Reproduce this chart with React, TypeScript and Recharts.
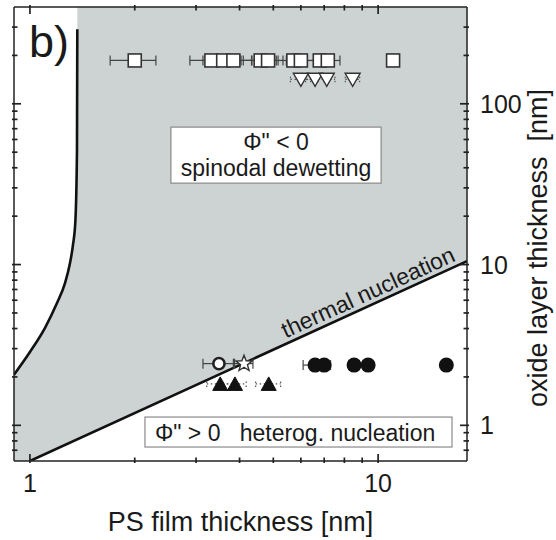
import React from 'react';
import {
  ComposedChart, XAxis, YAxis, Area, Line, Scatter, ErrorBar, ReferenceArea, ReferenceDot,
} from 'recharts';

const FONT = '"Liberation Sans", Arial, Helvetica, sans-serif';
const GREY = '#cdd3d3';
const INK = '#1a1a1a';
const W = 556;
const H = 540;

// log axes
const xDomain = [0.9, 18];
const yDomain = [0.6, 400];
const xTicks = [1, 2, 3, 4, 5, 6, 7, 8, 9, 10];
const xTickLabels = [1, 10];
const yTicks = [0.7, 0.8, 0.9, 1, 2, 3, 4, 5, 6, 7, 8, 9, 10, 20, 30, 40, 50, 60, 70, 80, 90, 100, 200, 300];
const yTickLabels = [1, 10, 100];

// left boundary (white region to its left)
const curveX = [0.899, 1.0, 1.104, 1.196, 1.261, 1.303, 1.329, 1.351, 1.365, 1.368];
const curveY = [2.06, 2.86, 4.03, 5.76, 7.67, 10.2, 13.2, 18.9, 51.5, 291];

// thermal nucleation line
const thermalX = [1.0, 18];
const thermalY = [0.6, 10.5];

// open squares with error bars
const squareX = [2.0, 3.32, 3.59, 3.84, 4.6, 4.83, 5.71, 6.0, 6.8, 7.17, 11.04];
const squareY = [186, 186, 186, 186, 186, 186, 186, 186, 186, 186, 186];
const squareErr = [0.3, 0.44, 0.45, 0.5, 0.5, 0.5, 0.55, 0.55, 0.6, 0.6, 0.3];

// open down triangles
const triDownX = [6.0, 6.59, 7.12, 8.45];
const triDownY = [142, 142, 142, 142];
const triDownErr = [0.4, 0.4, 0.4, 0.4];

// open circle + star
const openCircX = [3.49];
const openCircY = [2.42];
const openCircErr = [0.35];
const starX = [4.12];
const starY = [2.42];
const starErr = [0.25];

// filled triangles
const triUpX = [3.52, 3.88, 4.85];
const triUpY = [1.81, 1.81, 1.81];
const triUpErr = [0.3, 0.3, 0.4];

// filled circles
const dotX = [6.59, 7.0, 8.53, 9.36, 15.7];
const dotY = [2.37, 2.37, 2.37, 2.37, 2.37];
const dotErr = [0.5, 0.3, 0.3, 0.3, 0.3];

const pts = (xs: number[], ys: number[], es?: number[]) =>
  xs.map((x, i) => ({ x, y: ys[i], ex: es ? es[i] : 0 }));

const greyRows = xDomain.map((x) => ({ x, band: [yDomain[0], yDomain[1]] }));
const leftRows = curveX.map((x, i) => ({ x, y: curveY[i], band: [curveY[i], yDomain[1]] }));
const thermalRows = thermalX.map((x, i) => ({ x, y: thermalY[i], band: [yDomain[0], thermalY[i]] }));

const axisStyle = { stroke: '#222', strokeWidth: 1.5 };
const TICK = '#222';
const MAJOR = 9;
const MINOR = 5.5;

const BottomTick = ({ x, y, payload }: any) => {
  const major = xTickLabels.includes(payload.value);
  return (
    <g>
      <path d={`M${x},${y}V${y - (major ? MAJOR : MINOR)}`} stroke={TICK} strokeWidth={1.7} fill="none" />
      {major && (
        <text x={x} y={y + 29} textAnchor="middle" fontSize={25} fontFamily={FONT} fill={INK}>
          {payload.value}
        </text>
      )}
    </g>
  );
};

const TopTick = ({ x, y, payload }: any) => {
  const major = xTickLabels.includes(payload.value);
  return <path d={`M${x},${y}V${y + (major ? MAJOR : MINOR)}`} stroke={TICK} strokeWidth={1.7} fill="none" />;
};

const LeftTick = ({ x, y, payload }: any) => {
  const major = yTickLabels.includes(payload.value);
  return <path d={`M${x},${y}H${x + (major ? MAJOR : MINOR)}`} stroke={TICK} strokeWidth={1.7} fill="none" />;
};

const RightTick = ({ x, y, payload }: any) => {
  const major = yTickLabels.includes(payload.value);
  return (
    <g>
      <path d={`M${x},${y}H${x - (major ? MAJOR : MINOR)}`} stroke={TICK} strokeWidth={1.7} fill="none" />
      {major && (
        <text x={x + 11} y={y + 9} textAnchor="start" fontSize={25} fontFamily={FONT} fill={INK}>
          {payload.value}
        </text>
      )}
    </g>
  );
};

const OpenSquare = ({ cx, cy }: any) => (
  <rect x={cx - 6.5} y={cy - 6.5} width={13} height={13} fill="#fff" stroke="#333" strokeWidth={1.6} />
);
const OpenTriDown = ({ cx, cy }: any) => (
  <polygon points={`${cx - 7.5},${cy - 6} ${cx + 7.5},${cy - 6} ${cx},${cy + 7}`} fill="#fff" stroke="#333" strokeWidth={1.4} />
);
const FilledTriUp = ({ cx, cy }: any) => (
  <polygon points={`${cx - 7.5},${cy + 6.5} ${cx + 7.5},${cy + 6.5} ${cx},${cy - 7}`} fill="#111" stroke="#111" strokeWidth={1} />
);
const OpenCircle = ({ cx, cy }: any) => (
  <circle cx={cx} cy={cy} r={5.6} fill="#fff" stroke="#222" strokeWidth={2.6} />
);
const FilledCircle = ({ cx, cy }: any) => <circle cx={cx} cy={cy} r={7.5} fill="#111" />;
const Star = ({ cx, cy }: any) => {
  const p: string[] = [];
  for (let i = 0; i < 10; i++) {
    const r = i % 2 === 0 ? 8.5 : 3.6;
    const a = -Math.PI / 2 + (i * Math.PI) / 5;
    p.push(`${cx + r * Math.cos(a)},${cy + r * Math.sin(a)}`);
  }
  return <polygon points={p.join(' ')} fill="#fff" stroke="#333" strokeWidth={1.4} />;
};

const SpinodalBox = ({ x, y, width, height }: any) => (
  <g fontFamily={FONT} fill={INK}>
    <rect x={x} y={y} width={width} height={height} fill="#fff" stroke="#8a8a8a" strokeWidth={1.2} />
    <text x={x + width / 2} y={y + 23} textAnchor="middle" fontSize={23}>Φ" &lt; 0</text>
    <text x={x + width / 2} y={y + 49} textAnchor="middle" fontSize={23}>spinodal dewetting</text>
  </g>
);

const HeterogBox = ({ x, y, width, height }: any) => (
  <g fontFamily={FONT} fill={INK}>
    <rect x={x} y={y} width={width} height={height} fill="#fff" stroke="#8a8a8a" strokeWidth={1.2} />
    <text x={x + 10} y={y + 24} fontSize={23} style={{ whiteSpace: 'pre' }}>{'Φ" > 0   heterog. nucleation'}</text>
  </g>
);

const ThermalLabel = ({ cx, cy }: any) => (
  <text x={cx} y={cy} textAnchor="middle" fontSize={23} fontFamily={FONT} fill={INK}
    transform={`rotate(-24.5, ${cx}, ${cy})`}>
    thermal nucleation
  </text>
);

const PanelLabel = ({ cx, cy }: any) => (
  <text x={cx + 15} y={cy + 50} fontSize={45} fontFamily={FONT} fill={INK}>b)</text>
);

const BottomTitle = ({ viewBox }: any) => (
  <text x={viewBox.x + viewBox.width / 2} y={viewBox.y + 70} textAnchor="middle" fontSize={27} fontFamily={FONT} fill={INK}>
    PS film thickness [nm]
  </text>
);

const RightTitle = ({ viewBox }: any) => {
  const bx = viewBox.x + 80;
  const cy = 248;
  return (
    <text x={bx} y={cy} textAnchor="middle" fontSize={27} fontFamily={FONT} fill={INK}
      transform={`rotate(-90, ${bx}, ${cy})`} style={{ whiteSpace: 'pre' }}>
      {'oxide layer thickness  [nm]'}
    </text>
  );
};

// same axis layout in both layers; only the top layer shows them
const axes = (show: boolean) => [
  <XAxis
    key="xb" type="number" dataKey="x" scale="log" domain={xDomain} allowDataOverflow
    ticks={xTicks} interval={0} height={79} tickSize={0} tickLine={false}
    axisLine={show ? axisStyle : false} tick={show ? (p: any) => <BottomTick {...p} /> : false}
    label={show ? { content: (p: any) => <BottomTitle {...p} /> } : undefined}
  />,
  <XAxis
    key="xt" xAxisId="top" orientation="top" type="number" dataKey="x" scale="log" domain={xDomain}
    allowDataOverflow ticks={xTicks} interval={0} height={7} tickSize={0} tickLine={false}
    axisLine={show ? axisStyle : false} tick={show ? (p: any) => <TopTick {...p} /> : false}
  />,
  <YAxis
    key="yr" orientation="right" type="number" scale="log" domain={yDomain} allowDataOverflow
    ticks={yTicks} interval={0} width={89} tickSize={0} tickLine={false}
    axisLine={show ? axisStyle : false} tick={show ? (p: any) => <RightTick {...p} /> : false}
    label={show ? { content: (p: any) => <RightTitle {...p} /> } : undefined}
  />,
  <YAxis
    key="yl" yAxisId="left" orientation="left" type="number" scale="log" domain={yDomain} allowDataOverflow
    ticks={yTicks} interval={0} width={14} tickSize={0} tickLine={false}
    axisLine={show ? axisStyle : false} tick={show ? (p: any) => <LeftTick {...p} /> : false}
  />,
];

const layer: React.CSSProperties = { position: 'absolute', left: 0, top: 0 };
const margin = { top: 0, right: 0, bottom: 0, left: 0 };

const App: React.FC = () => (
  <div style={{ position: 'absolute', left: 0, top: 0, width: W, height: H, background: '#fff' }}>
    {/* bottom layer: shaded regions */}
    <div style={layer}>
      <ComposedChart width={W} height={H} margin={margin}>
        {axes(false)}
        <Area data={greyRows} dataKey="band" type="linear" fill={GREY} fillOpacity={1} stroke="none" isAnimationActive={false} />
        <Area data={leftRows} dataKey="band" type="monotone" fill="#fff" fillOpacity={1} stroke="none" isAnimationActive={false} />
        <Area data={thermalRows} dataKey="band" type="linear" fill="#fff" fillOpacity={1} stroke="none" isAnimationActive={false} />
      </ComposedChart>
    </div>

    {/* top layer: axes, boundaries, data and notes */}
    <div style={layer}>
      <ComposedChart width={W} height={H} margin={margin}>
        {axes(true)}
        <Line data={leftRows} dataKey="y" type="monotone" stroke="#111" strokeWidth={2.6} dot={false} activeDot={false} isAnimationActive={false} />
        <Line data={thermalRows} dataKey="y" type="linear" stroke="#111" strokeWidth={2.6} dot={false} activeDot={false} isAnimationActive={false} />

        <Scatter data={pts(squareX, squareY, squareErr)} dataKey="y" shape={OpenSquare} isAnimationActive={false}>
          <ErrorBar dataKey="ex" direction="x" width={5} stroke="#444" strokeWidth={1.2} />
        </Scatter>
        <Scatter data={pts(triDownX, triDownY, triDownErr)} dataKey="y" shape={OpenTriDown} isAnimationActive={false}>
          <ErrorBar dataKey="ex" direction="x" width={3} stroke="#555" strokeWidth={1.2} strokeDasharray="1.5 2.5" />
        </Scatter>
        <Scatter data={pts(openCircX, openCircY, openCircErr)} dataKey="y" shape={OpenCircle} isAnimationActive={false}>
          <ErrorBar dataKey="ex" direction="x" width={5} stroke="#444" strokeWidth={1.2} />
        </Scatter>
        <Scatter data={pts(starX, starY, starErr)} dataKey="y" shape={Star} isAnimationActive={false}>
          <ErrorBar dataKey="ex" direction="x" width={5} stroke="#444" strokeWidth={1.2} />
        </Scatter>
        <Scatter data={pts(triUpX, triUpY, triUpErr)} dataKey="y" shape={FilledTriUp} isAnimationActive={false}>
          <ErrorBar dataKey="ex" direction="x" width={3} stroke="#555" strokeWidth={1.2} strokeDasharray="1.5 2.5" />
        </Scatter>
        <Scatter data={pts(dotX, dotY, dotErr)} dataKey="y" shape={FilledCircle} isAnimationActive={false}>
          <ErrorBar dataKey="ex" direction="x" width={5} stroke="#444" strokeWidth={1.2} />
        </Scatter>

        <ReferenceArea x1={2.54} x2={10.2} y1={32.1} y2={71.6} shape={(p: any) => <SpinodalBox {...p} />} />
        <ReferenceArea x1={2.14} x2={16.3} y1={0.733} y2={1.126} shape={(p: any) => <HeterogBox {...p} />} />
        <ReferenceDot x={9.55} y={6.06} r={0} ifOverflow="visible" shape={(p: any) => <ThermalLabel {...p} />} />
        <ReferenceDot x={xDomain[0]} y={yDomain[1]} r={0} ifOverflow="visible" shape={(p: any) => <PanelLabel {...p} />} />
      </ComposedChart>
    </div>
  </div>
);

export default App;
